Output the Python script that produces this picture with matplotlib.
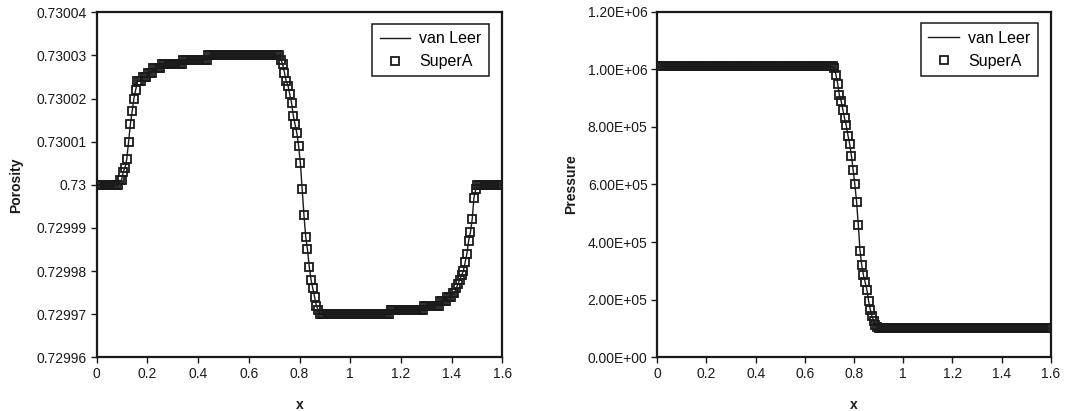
import numpy as np
import matplotlib
matplotlib.use("Agg")
import matplotlib.pyplot as plt

plt.rcParams['font.family'] = ['Liberation Sans', 'DejaVu Sans']

# ---- data ----
n_points = 230
x_min, x_max = 0.0, 1.6

# porosity deviation from 0.73, in units of 1e-6, one value per grid point
poro_dev = ([0] * 13
            + [1, 1, 3, 4, 6, 10, 14, 17, 20, 22, 24, 24, 24, 25, 25, 25, 26, 26, 26]
            + [27] * 5
            + [28] * 12
            + [29] * 14
            + [30] * 41
            + [29, 28, 26, 24, 23, 21, 19, 16, 14, 12, 9, 5, -1, -7, -12, -15, -19,
               -22, -24, -26, -28, -29]
            + [-30] * 40
            + [-29] * 19
            + [-28] * 9
            + [-27] * 4
            + [-26, -26, -26, -25, -25, -24, -23, -22, -21, -20, -18, -16, -13, -11,
               -8, -3, -1]
            + [0] * 15)
poro_base = 0.73

# pressure, units of 1e5, one value per grid point
pres_1e5 = ([10.1] * 103
            + [10.05, 9.8, 9.5, 9.1, 8.9, 8.6, 8.3, 8.05, 7.7, 7.4, 7.0, 6.5, 6.0, 5.4,
               4.6, 3.7, 3.2, 2.85, 2.6, 2.35, 1.95, 1.65, 1.42, 1.25, 1.12, 1.05, 1.01]
            + [1.01] * 100)

poro_ticks = [0.72996, 0.72997, 0.72998, 0.72999, 0.73, 0.73001, 0.73002, 0.73003, 0.73004]
poro_ticklabels = ['0.72996', '0.72997', '0.72998', '0.72999', '0.73',
                   '0.73001', '0.73002', '0.73003', '0.73004']
pres_ticks = [0, 2e5, 4e5, 6e5, 8e5, 1e6, 1.2e6]
pres_ticklabels = ['0.00E+00', '2.00E+05', '4.00E+05', '6.00E+05',
                   '8.00E+05', '1.00E+06', '1.20E+06']
x_ticks = [0, 0.2, 0.4, 0.6, 0.8, 1, 1.2, 1.4, 1.6]
x_ticklabels = ['0', '0.2', '0.4', '0.6', '0.8', '1', '1.2', '1.4', '1.6']
series_names = ['van Leer', 'SuperA']

x = np.linspace(x_min, x_max, n_points)
porosity = poro_base + np.array(poro_dev) * 1e-6
pressure = np.array(pres_1e5) * 1e5

fig = plt.figure(figsize=(10.83, 4.11), dpi=100)
axL = fig.add_axes([0.0893, 0.1307, 0.3745, 0.8394])
axR = fig.add_axes([0.6069, 0.1307, 0.3633, 0.8408])

ink = '#1a1a1a'

def style(ax, yticks, ylabels, ylim, ylabel, ypad):
    ax.set_xlim(x_min, x_max)
    ax.set_ylim(*ylim)
    ax.set_xticks(x_ticks)
    ax.set_xticklabels(x_ticklabels)
    ax.set_yticks(yticks)
    ax.set_yticklabels(ylabels)
    ax.tick_params(direction='out', length=4, width=1, colors=ink,
                   labelsize=10, top=False, right=False, pad=3)
    for s in ax.spines.values():
        s.set_linewidth(1.6)
        s.set_color(ink)
    ax.set_xlabel('x', fontsize=10, fontweight='bold', labelpad=12, color=ink)
    ax.set_ylabel(ylabel, fontsize=10, fontweight='bold', labelpad=ypad, color=ink)
    leg = ax.legend(loc='upper right', bbox_to_anchor=(0.967, 0.966),
                    borderaxespad=0, fancybox=False, framealpha=1,
                    edgecolor=ink, fontsize=11.5, handlelength=1.9,
                    handletextpad=0.6, labelspacing=0.5, borderpad=0.45)
    leg.get_frame().set_linewidth(1.1)

for ax, y in ((axL, porosity), (axR, pressure)):
    ax.plot(x, y, '-', color=ink, lw=1.0, label=series_names[0], zorder=3)
    ax.plot(x, y, 's', mfc='none', mec=ink, mew=1.3, ms=5.6,
            label=series_names[1], zorder=2)

style(axL, poro_ticks, poro_ticklabels, (0.72996, 0.73004), 'Porosity', 10)
style(axR, pres_ticks, pres_ticklabels, (0, 1.2e6), 'Pressure', 7)

fig.savefig('out.png', dpi=100)
